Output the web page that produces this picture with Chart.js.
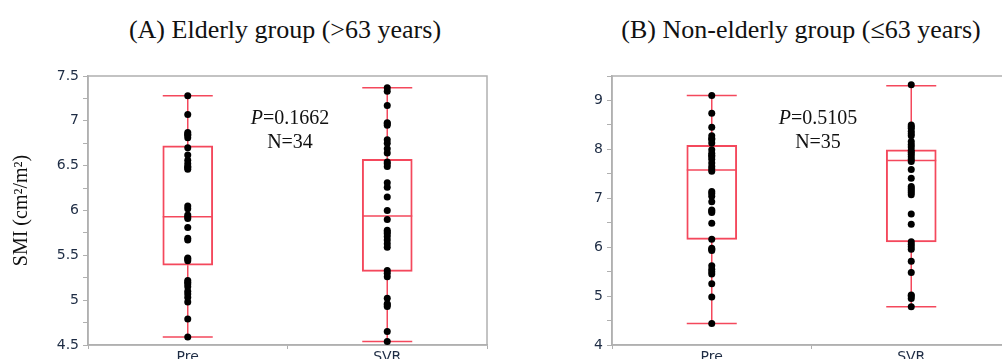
<!DOCTYPE html>
<html>
<head>
<meta charset="utf-8">
<script src="https://cdn.jsdelivr.net/npm/chart.js@4.4.0/dist/chart.umd.min.js"></script>
<style>
  body { margin: 0; width: 1002px; height: 359px; overflow: hidden; background: #fff; position: relative; }
  .title { position: absolute; font-family: "Liberation Serif", serif; font-size: 26px; color: #111; white-space: nowrap; transform: translateX(-50%); line-height: 30px; }
  .note { position: absolute; font-family: "Liberation Serif", serif; font-size: 20px; color: #111; white-space: nowrap; transform: translateX(-50%); line-height: 24px; text-align: center; }
  canvas { position: absolute; top: 0; }
</style>
</head>
<body>
<div class="title" style="left:285px; top:15px;">(A) Elderly group (&gt;63 years)</div>
<div class="title" style="left:801px; top:15px;">(B) Non-elderly group (≤63 years)</div>
<canvas id="chartA" width="500" height="380" style="left:0px;"></canvas>
<canvas id="chartB" width="520" height="380" style="left:520px;"></canvas>
<div class="note" style="left:290px; top:105px;"><i>P</i>=0.1662<br>N=34</div>
<div class="note" style="left:818px; top:105px;"><i>P</i>=0.5105<br>N=35</div>
<script>
const groups = ['Pre', 'SVR'];

// (A) elderly group
const elderPre = [7.28, 7.07, 6.87, 6.85, 6.84, 6.81, 6.70, 6.62, 6.56, 6.52, 6.49, 6.48, 6.46,
  6.05, 6.02, 5.95, 5.93, 5.91, 5.81, 5.69, 5.67, 5.47, 5.46, 5.44, 5.22, 5.20, 5.18, 5.15,
  5.10, 5.07, 5.03, 4.98, 4.79, 4.59];
const elderSvr = [7.37, 7.33, 7.17, 6.98, 6.97, 6.95, 6.79, 6.75, 6.69, 6.64, 6.54, 6.52, 6.49,
  6.31, 6.26, 6.15, 6.00, 5.90, 5.78, 5.76, 5.74, 5.71, 5.67, 5.63, 5.59, 5.33, 5.30, 5.26,
  5.02, 4.96, 4.95, 4.93, 4.65, 4.54];
const elderBoxLow = [5.39, 5.32];
const elderBoxHigh = [6.72, 6.57];
const elderMedian = [5.93, 5.94];
const elderMin = [4.59, 4.54];
const elderMax = [7.28, 7.37];

// (B) non-elderly group
const youngPre = [9.10, 8.74, 8.45, 8.28, 8.22, 8.20, 8.13, 7.99, 7.92, 7.88, 7.85, 7.80, 7.72,
  7.65, 7.60, 7.55, 7.14, 7.10, 7.04, 6.93, 6.76, 6.74, 6.71, 6.49, 6.16, 5.98, 5.96, 5.93,
  5.62, 5.55, 5.50, 5.45, 5.25, 4.98, 4.44];
const youngSvr = [9.32, 8.50, 8.46, 8.43, 8.37, 8.32, 8.28, 8.16, 8.10, 8.05, 7.98, 7.94, 7.90,
  7.85, 7.80, 7.75, 7.59, 7.41, 7.24, 7.20, 7.16, 7.12, 7.07, 6.68, 6.47, 6.11, 6.06, 6.01,
  5.96, 5.71, 5.48, 5.02, 5.00, 4.95, 4.78];
const youngBoxLow = [6.16, 6.11];
const youngBoxHigh = [8.08, 7.99];
const youngMedian = [7.58, 7.77];
const youngMin = [4.44, 4.78];
const youngMax = [9.10, 9.30];

const RED = '#f4485c';
const FRAME = '#b0b0b0';
const TICKTXT = '#1e2c44';
const BOXW = 50;

// whiskers, caps, median, plus the grey frame round the plot
const boxPlugin = {
  id: 'boxParts',
  beforeDatasetsDraw(chart, args, opts) {
    const ctx = chart.ctx;
    const x = chart.scales.x, y = chart.scales.y;
    const a = chart.chartArea;
    ctx.save();
    ctx.strokeStyle = FRAME;
    ctx.lineWidth = 1.5;
    ctx.strokeRect(a.left, a.top, a.right - a.left, a.bottom - a.top);
    ctx.strokeStyle = RED;
    ctx.lineWidth = 1.5;
    for (let i = 0; i < groups.length; i++) {
      const cx = x.getPixelForValue(i);
      const yMin = y.getPixelForValue(opts.min[i]);
      const yMax = y.getPixelForValue(opts.max[i]);
      const yLo = y.getPixelForValue(opts.low[i]);
      const yHi = y.getPixelForValue(opts.high[i]);
      const yMed = y.getPixelForValue(opts.median[i]);
      ctx.beginPath();
      ctx.moveTo(cx, yMax); ctx.lineTo(cx, yHi);
      ctx.moveTo(cx, yLo); ctx.lineTo(cx, yMin);
      ctx.moveTo(cx - BOXW / 2, yMax); ctx.lineTo(cx + BOXW / 2, yMax);
      ctx.moveTo(cx - BOXW / 2, yMin); ctx.lineTo(cx + BOXW / 2, yMin);
      ctx.moveTo(cx - BOXW / 2, yMed); ctx.lineTo(cx + BOXW / 2, yMed);
      ctx.stroke();
    }
    ctx.restore();
  }
};

function makeChart(id, pre, svr, low, high, median, min, max, yMin, yMax, step, labelEvery, yWidth, padRight, yTitle) {
  const points = pre.map(v => ({ x: 'Pre', y: v })).concat(svr.map(v => ({ x: 'SVR', y: v })));
  return new Chart(document.getElementById(id), {
    type: 'bar',
    data: {
      labels: groups,
      datasets: [{
        type: 'scatter',
        data: points,
        pointRadius: 3.5,
        pointBackgroundColor: '#000',
        pointBorderColor: '#000',
        pointBorderWidth: 0,
        showLine: false,
        order: 0
      }, {
        data: low.map((v, i) => [v, high[i]]),
        backgroundColor: 'rgba(0,0,0,0)',
        borderColor: RED,
        borderWidth: 1.3,
        borderSkipped: false,
        barThickness: BOXW,
        order: 1
      }]
    },
    options: {
      responsive: false,
      animation: false,
      layout: { padding: { top: 76, right: padRight, left: 0, bottom: 0 } },
      plugins: {
        legend: { display: false },
        tooltip: { enabled: false },
        boxParts: { low: low, high: high, median: median, min: min, max: max }
      },
      scales: {
        x: {
          type: 'category',
          offset: true,
          afterFit: s => { s.height = 35; },
          grid: { offset: true, drawOnChartArea: false, tickLength: 4, color: FRAME },
          border: { color: FRAME, width: 1.5 },
          ticks: { color: TICKTXT, padding: 0, font: { family: 'DejaVu Sans', size: 14 } }
        },
        y: {
          min: yMin,
          max: yMax,
          afterFit: s => { s.width = yWidth; },
          afterBuildTicks: s => {
            const t = [];
            for (let v = yMin; v <= yMax + 1e-9; v += step) t.push({ value: Math.round(v * 100) / 100 });
            s.ticks = t;
          },
          grid: { drawOnChartArea: false, tickLength: 5, color: FRAME },
          border: { color: FRAME, width: 1.5 },
          ticks: {
            color: TICKTXT,
            padding: 4,
            font: { family: 'DejaVu Sans', size: 14 },
            callback: v => (Math.abs(v / labelEvery - Math.round(v / labelEvery)) < 1e-6 ? String(v) : '')
          },
          title: {
            display: !!yTitle,
            text: yTitle,
            color: '#111',
            padding: { top: 10, bottom: 0 },
            font: { family: 'Liberation Serif', size: 20 }
          }
        }
      }
    },
    plugins: [boxPlugin]
  });
}

makeChart('chartA', elderPre, elderSvr, elderBoxLow, elderBoxHigh, elderMedian, elderMin, elderMax,
  4.5, 7.5, 0.25, 0.5, 88, 13, 'SMI (cm²/m²)');
makeChart('chartB', youngPre, youngSvr, youngBoxLow, youngBoxHigh, youngMedian, youngMin, youngMax,
  4, 9.5, 0.5, 1, 92, 29, '');
</script>
</body>
</html>
